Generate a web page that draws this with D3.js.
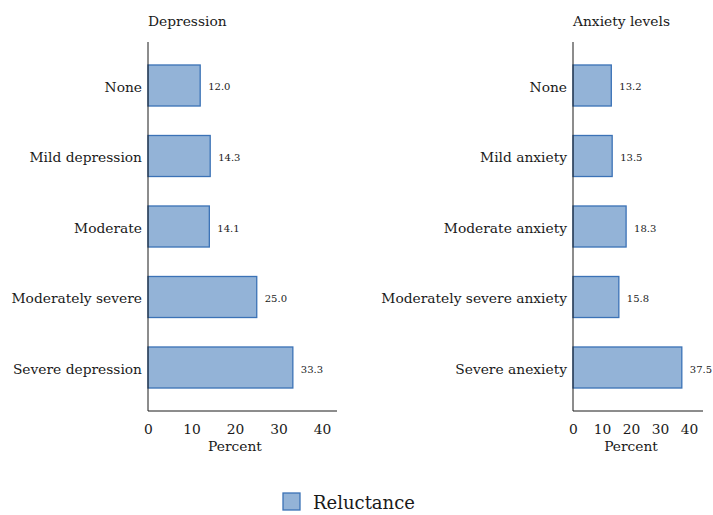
<!DOCTYPE html>
<html><head><meta charset="utf-8">
<script src="https://cdn.jsdelivr.net/npm/d3@7"></script>
<style>body{margin:0;background:#fff}svg{display:block}text{font-family:"DejaVu Serif",serif;fill:#1a1a1a}</style>
</head><body>
<svg id="c" width="713" height="515"></svg>
<script>
const depCategories = ["None","Mild depression","Moderate","Moderately severe","Severe depression"];
const depValues = [12.0,14.3,14.1,25.0,33.3];
const anxCategories = ["None","Mild anxiety","Moderate anxiety","Moderately severe anxiety","Severe anexiety"];
const anxValues = [13.2,13.5,18.3,15.8,37.5];
const xTicks = [0,10,20,30,40];
const seriesName = "Reluctance";

const svg = d3.select("#c");
const fill = "#93b3d7", stroke = "#3b72b6";

function panel(title, cats, vals, x0, x1, xmax){
  const top = 42, bottom = 411;
  const x = d3.scaleLinear().domain([0,xmax]).range([x0,x1]);
  const y = d3.scaleBand().domain(cats).range([top, bottom]).paddingInner(0.418).paddingOuter(0.326);
  const g = svg.append("g");
  g.append("text").attr("x",x0).attr("y",26).attr("font-size",13.8).text(title);
  g.selectAll("rect").data(vals).join("rect")
    .attr("x",x(0)).attr("y",(d,i)=>y(cats[i]))
    .attr("width",d=>x(d)-x(0)).attr("height",y.bandwidth())
    .attr("fill",fill).attr("stroke",stroke).attr("stroke-width",1.3);
  g.selectAll("text.v").data(vals).join("text").attr("class","v")
    .attr("x",d=>x(d)+8).attr("y",(d,i)=>y(cats[i])+y.bandwidth()/2+5)
    .attr("font-size",10).text(d=>d.toFixed(1));
  const ya = d3.axisLeft(y).tickSize(0).tickPadding(6);
  const gy = g.append("g").attr("transform",`translate(${x0},0)`).call(ya);
  gy.select(".domain").attr("d",`M0,${top}V${bottom}`).attr("stroke","#1a1a1a");
  gy.selectAll("text").attr("font-size",13.8).attr("font-family","DejaVu Serif").attr("fill","#1a1a1a").attr("dy","0.45em");
  const xa = d3.axisBottom(x).tickValues(xTicks).tickSize(0).tickPadding(13);
  const gx = g.append("g").attr("transform",`translate(0,${bottom})`).call(xa);
  gx.select(".domain").attr("d",`M${x0},0H${x1}`).attr("stroke","#1a1a1a");
  gx.selectAll("text").attr("font-size",13.8).attr("font-family","DejaVu Serif").attr("fill","#1a1a1a");
  g.append("text").attr("x",x(0)+(x(40)-x(0))/2).attr("y",451).attr("text-anchor","middle").attr("font-size",13.8).text("Percent");
}
panel("Depression", depCategories, depValues, 148, 337, 43.45);
panel("Anxiety levels", anxCategories, anxValues, 573, 703, 44.8);

const lg = svg.append("g");
lg.append("rect").attr("x",283).attr("y",493).attr("width",17).attr("height",17).attr("fill",fill).attr("stroke",stroke).attr("stroke-width",1.3);
lg.append("text").attr("x",313).attr("y",509).attr("font-size",18).text(seriesName);
</script>
</body></html>
